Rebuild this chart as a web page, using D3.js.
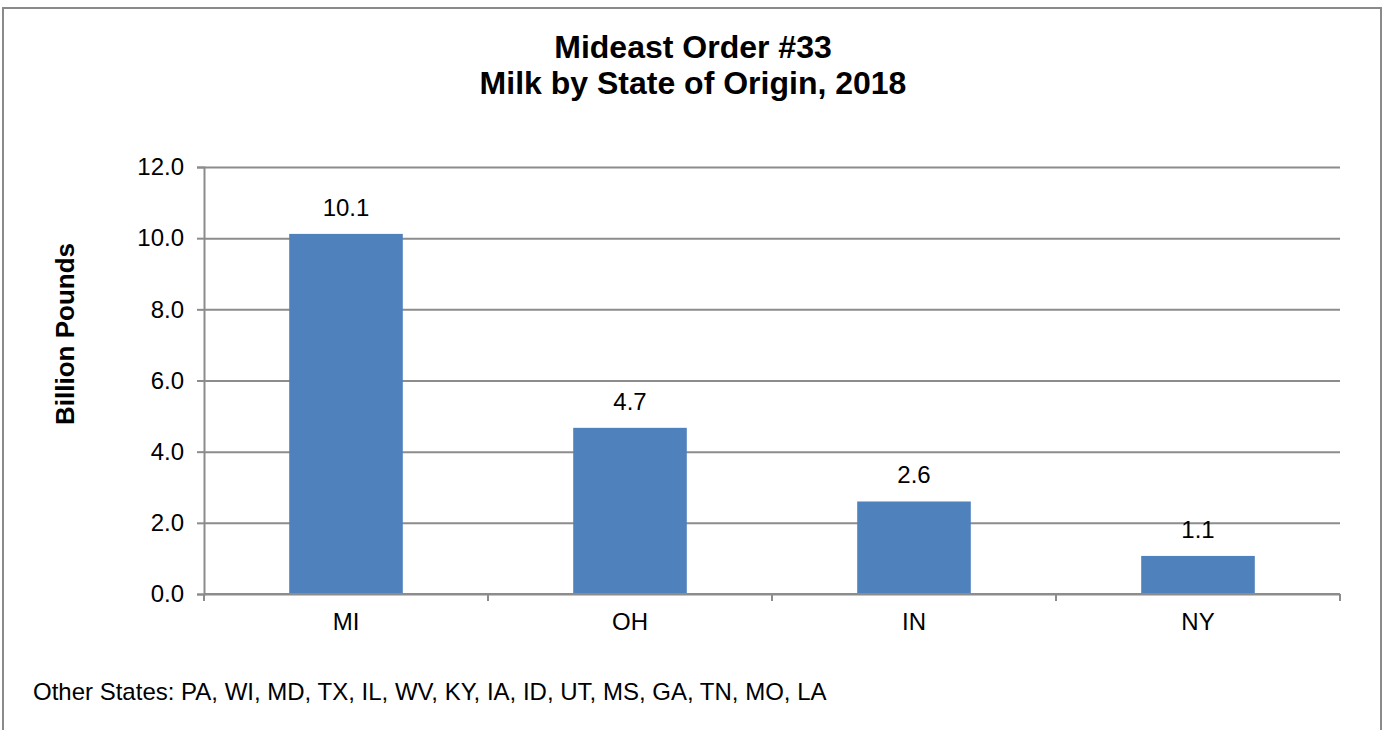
<!DOCTYPE html>
<html>
<head>
<meta charset="utf-8">
<script src="https://cdn.jsdelivr.net/npm/d3@7"></script>
<style>
  body { margin: 0; background: #fff; }
  text { font-family: "Liberation Sans", Arial, sans-serif; fill: #000; }
</style>
</head>
<body>
<svg id="chart" width="1385" height="730"></svg>
<script>
// chart data
const states = ['MI', 'OH', 'IN', 'NY']
const milkBillionLbs = [10.12, 4.67, 2.6, 1.07]
const yTicks = [0, 2, 4, 6, 8, 10, 12]
const titleLines = ['Mideast Order #33', 'Milk by State of Origin, 2018']
const yTitle = 'Billion Pounds'
const footnote = 'Other States: PA, WI, MD, TX, IL, WV, KY, IA, ID, UT, MS, GA, TN, MO, LA'

const svg = d3.select('#chart')
const plot = {left: 204, right: 1340, top: 167, bottom: 594}
const gridColor = '#8c8c8c'

// outer frame
svg.append('rect')
   .attr('x', 3).attr('y', 8)
   .attr('width', 1378).attr('height', 740)
   .attr('fill', 'none')
   .attr('stroke', '#8a8a8a')
   .attr('stroke-width', 2)

// title
svg.append('g').attr('class', 'title')
   .selectAll('text').data(titleLines).enter().append('text')
   .attr('x', 693)
   .attr('y', (d, i) => 58 + i*36)
   .attr('text-anchor', 'middle')
   .style('font-size', '32px')
   .style('font-weight', 'bold')
   .text(d => d)

const x = d3.scaleBand().domain(states).range([plot.left, plot.right])
            .paddingInner(0.6).paddingOuter(0.3)
const y = d3.scaleLinear().domain([0, 12]).range([plot.bottom, plot.top])

// gridlines + y axis
const yAxis = svg.append('g')
   .attr('transform', `translate(${plot.left},0)`)
   .call(d3.axisLeft(y).tickValues(yTicks).tickFormat(d3.format('.1f'))
           .tickSize(7).tickPadding(13))
yAxis.select('.domain').attr('stroke', gridColor).attr('stroke-width', 2)
yAxis.selectAll('.tick line').attr('stroke', gridColor).attr('stroke-width', 2)
yAxis.selectAll('.tick').append('line')
   .attr('x1', 0).attr('x2', plot.right - plot.left)
   .attr('stroke', gridColor).attr('stroke-width', 2)
yAxis.selectAll('.tick text')
   .style('font-size', '24px')
   .style('font-family', '"Liberation Sans", Arial, sans-serif')
   .attr('fill', '#000')

// bars
svg.append('g').attr('class', 'bars')
   .selectAll('rect').data(states).enter().append('rect')
   .attr('x', d => x(d))
   .attr('width', x.bandwidth())
   .attr('y', (d, i) => y(milkBillionLbs[i]))
   .attr('height', (d, i) => y(0) - y(milkBillionLbs[i]))
   .attr('fill', '#4f81bd')

// value labels
svg.append('g').attr('class', 'labels')
   .selectAll('text').data(states).enter().append('text')
   .attr('x', d => x(d) + x.bandwidth()/2)
   .attr('y', (d, i) => y(milkBillionLbs[i]) - 18)
   .attr('text-anchor', 'middle')
   .style('font-size', '24px')
   .text((d, i) => d3.format('.1f')(milkBillionLbs[i]))

// x axis with ticks at category boundaries
const step = x.step()
const xAxisG = svg.append('g').attr('transform', `translate(0,${plot.bottom})`)
xAxisG.append('line')
   .attr('x1', plot.left).attr('x2', plot.right)
   .attr('stroke', gridColor).attr('stroke-width', 2)
xAxisG.selectAll('line.bound').data(d3.range(states.length + 1)).enter().append('line')
   .attr('class', 'bound')
   .attr('x1', i => plot.left + i*step).attr('x2', i => plot.left + i*step)
   .attr('y1', 0).attr('y2', 7)
   .attr('stroke', gridColor).attr('stroke-width', 2)
xAxisG.selectAll('text').data(states).enter().append('text')
   .attr('x', d => x(d) + x.bandwidth()/2)
   .attr('y', 36)
   .attr('text-anchor', 'middle')
   .style('font-size', '24px')
   .text(d => d)

// y axis title
svg.append('text')
   .attr('transform', 'translate(74,334) rotate(-90)')
   .attr('text-anchor', 'middle')
   .style('font-size', '26px')
   .style('font-weight', 'bold')
   .text(yTitle)

// footnote
svg.append('text')
   .attr('x', 33).attr('y', 700)
   .style('font-size', '24px')
   .text(footnote)
</script>
</body>
</html>
